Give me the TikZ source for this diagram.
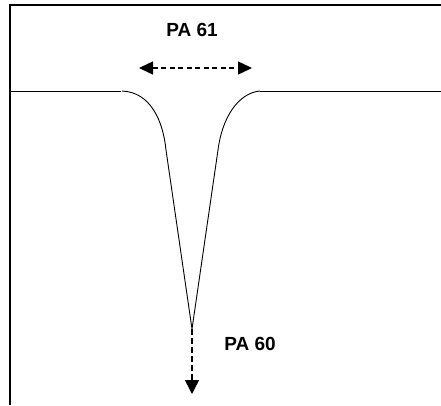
\documentclass[tikz,border=0pt]{standalone}
\usepackage{fontspec}
\setmainfont{Liberation Sans}
\usetikzlibrary{arrows.meta}
\begin{document}
\begin{tikzpicture}[x=1pt,y=-1pt,
  frameline/.style={line width=1.2pt,black},
  surf/.style={line width=0.9pt,black},
  dimarrow/.style={line width=1.5pt,dash pattern=on 5pt off 3.5pt,{Triangle[length=14pt,width=13pt]}-{Triangle[length=14pt,width=13pt]}},
  downarrow/.style={line width=1.5pt,dash pattern=on 5.5pt off 3.5pt,-{Triangle[length=14pt,width=14pt]}},
  lbl/.style={font=\fontsize{19}{22}\selectfont\bfseries,inner sep=0pt}]
\useasboundingbox (0,0) rectangle (441,405);
% frame
\draw[frameline] (10,405) -- (10,5) -- (441,5);
% surface
\draw[surf] (10,91) -- (121,91);
\draw[surf] (122,91) .. controls (150,92) and (163,120) .. (166,150);
\coordinate (tip) at (192,329);
\draw[surf] (166,150) -- (tip) -- (218,150);
\draw[surf] (218,150) .. controls (222,118) and (238,93) .. (260,91);
\draw[surf] (260,91) -- (441,91);
% labels
\node[lbl] (pa61) at (192,30) {PA 61};
\node[lbl] (pa60) at (250,344) {PA 60};
% arrows
\coordinate (hl) at (139,68);
\coordinate (hr) at (252,68);
\draw[dimarrow] (hl) -- (hr);
\coordinate (vb) at (192,394);
\draw[downarrow] (tip) -- (vb);
\end{tikzpicture}
\end{document}
